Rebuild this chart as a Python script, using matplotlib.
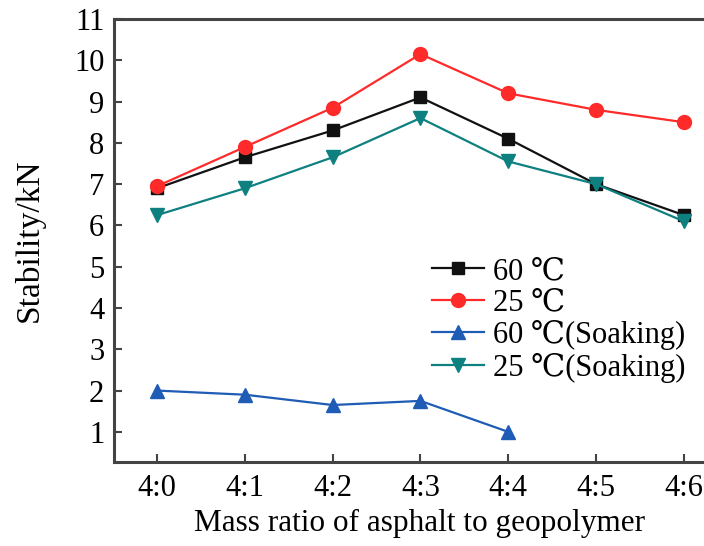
import matplotlib
matplotlib.use('Agg')
import matplotlib.pyplot as plt

plt.rcParams['font.family'] = ['Liberation Serif', 'DejaVu Serif', 'DejaVu Sans']

ratios = ['4:0', '4:1', '4:2', '4:3', '4:4', '4:5', '4:6']
t60 = [6.9, 7.65, 8.3, 9.1, 8.1, 7.0, 6.25]
t25 = [6.95, 7.9, 8.85, 10.15, 9.2, 8.8, 8.5]
t60_soak = [2.0, 1.9, 1.65, 1.75, 1.0]
t25_soak = [6.25, 6.9, 7.65, 8.6, 7.55, 7.0, 6.1]

fig = plt.figure(figsize=(7.04, 5.46), dpi=100)
# the frame runs past the right edge of the picture
ax = fig.add_axes([114/704, 84/546, 612/704, 443/546])

x = list(range(len(ratios)))
ax.plot(x, t60, color='#111111', marker='s', ms=9, lw=1.6, label='60 ℃')
ax.plot(x, t25, color='#ff2a2a', marker='o', ms=10, lw=1.6, label='25 ℃')
ax.plot(x[:len(t60_soak)], t60_soak, color='#1f5cb5', marker='^', ms=10, lw=1.6, label='60 ℃(Soaking)')
ax.plot(x, t25_soak, color='#0e8080', marker='v', ms=10, lw=1.6, label='25 ℃(Soaking)')

ax.set_xlim(-0.49, 6.48)
ax.set_ylim(0.27, 11)
ax.set_xticks(x)
ax.set_xticklabels(ratios)
ax.set_yticks(range(1, 12))
ax.tick_params(direction='in', length=6, width=1.5, labelsize=22, color='#444444')
ax.tick_params(axis='x', pad=9)
ax.tick_params(axis='y', pad=7)
for s in ['left', 'bottom', 'top']:
    ax.spines[s].set_linewidth(2.2)
    ax.spines[s].set_color('#444444')
ax.spines['right'].set_visible(False)

ax.set_xlabel('Mass ratio of asphalt to geopolymer', fontsize=22.5, labelpad=4)
ax.set_ylabel('Stability/kN', fontsize=24, labelpad=21)

ax.legend(loc='upper left', bbox_to_anchor=(0.5, 0.49), frameon=False, fontsize=22,
          handlelength=1.7, handletextpad=0.3, labelspacing=0.08, borderaxespad=0)

fig.savefig('out.png', dpi=100)
